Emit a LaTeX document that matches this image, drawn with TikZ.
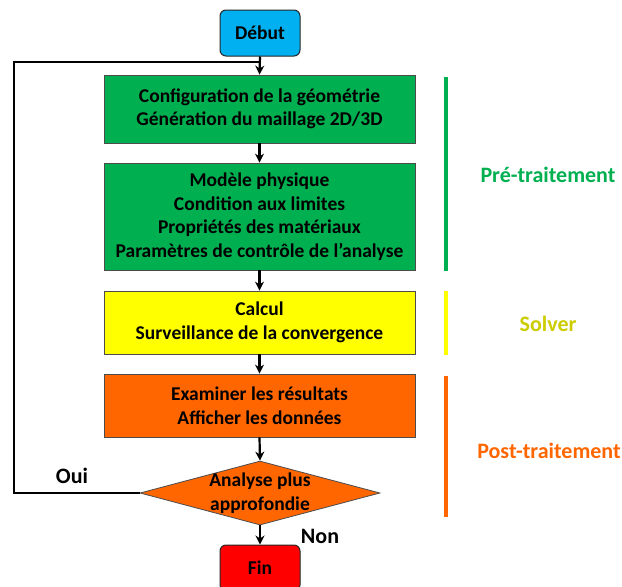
\documentclass[tikz,border=0pt]{standalone}
\usepackage{fontspec}
\setmainfont{Carlito}
\usetikzlibrary{shapes.geometric,arrows.meta}
\definecolor{cgreen}{HTML}{00B050}
\definecolor{cyellow}{HTML}{FFFF00}
\definecolor{corange}{HTML}{FF6600}
\definecolor{cblue}{HTML}{00B0F0}
\definecolor{cred}{HTML}{FF0000}
\definecolor{cdyell}{HTML}{CCCC00}
\begin{document}
\begin{tikzpicture}[x=1pt,y=-1pt,
  every node/.style={font=\bfseries\fontsize{19.5}{23.5}\selectfont},
  term/.style={draw=black!85,line width=1pt,rounded corners=6pt,minimum width=80pt,inner sep=0pt},
  proc/.style={draw=black!70,line width=0.8pt,minimum width=311pt,align=center,inner sep=0pt},
  arr/.style={-{Stealth[length=9pt,width=9pt]},line width=2.2pt},
  bar/.style={line width=4.5pt},
  lbl/.style={font=\bfseries\fontsize{22}{24}\selectfont},
  yn/.style={font=\bfseries\fontsize{22}{24}\selectfont}]
\useasboundingbox (0,0) rectangle (622,587);
\begin{scope}
\clip (0,0) rectangle (622,587);
\node[term,fill=cblue,minimum height=46pt] (debut) at (260,33) {Début};
\node[term,fill=cred,minimum height=46pt] (fin) at (260,568) {Fin};
\end{scope}
\node[proc,fill=cgreen,minimum height=68pt] (geo) at (259.5,109) {Configuration de la géométrie\\Génération du maillage 2D/3D};
\node[proc,fill=cgreen,minimum height=107pt] (phys) at (259.5,216.5) {Modèle physique\\Condition aux limites\\Propriétés des matériaux\\Paramètres de contrôle de l’analyse};
\node[proc,fill=cyellow,minimum height=63pt] (calc) at (259.5,322.5) {Calcul\\Surveillance de la convergence};
\node[proc,fill=corange,minimum height=63pt] (res) at (259.5,405.5) {Examiner les résultats\\Afficher les données};
\node[diamond,draw=black!70,line width=0.8pt,fill=corange,minimum width=240pt,minimum height=64pt,aspect=3.75,inner sep=0pt,align=center] (dec) at (260,493) {};
\node[align=center] (dect) at (260,493) {Analyse plus\\approfondie};
\coordinate (j) at (260,62);
\draw[arr] (debut.south) -- (geo.north);
\draw[arr] (geo.south) -- (phys.north);
\draw[arr] (phys.south) -- (calc.north);
\draw[arr] (calc.south) -- (res.north);
\draw[arr] (res.south) -- (dec.north);
\draw[arr] (dec.south) -- (fin.north);
\draw[line width=1.3pt] (dec.west) -- (14,493) -- (14,62) -- (j);
\node[yn] (oui) at (72,476) {Oui};
\node[yn] (non) at (320,536) {Non};
\draw[bar,cgreen] (446,77) -- (446,271);
\draw[bar,cyellow] (446,291) -- (446,355);
\draw[bar,corange] (446,376) -- (446,517);
\node[lbl,text=cgreen] (pre) at (548,175) {Pré-traitement};
\node[lbl,text=cdyell] (sol) at (548,324) {Solver};
\node[lbl,text=corange] (post) at (549,451) {Post-traitement};
\end{tikzpicture}
\end{document}
